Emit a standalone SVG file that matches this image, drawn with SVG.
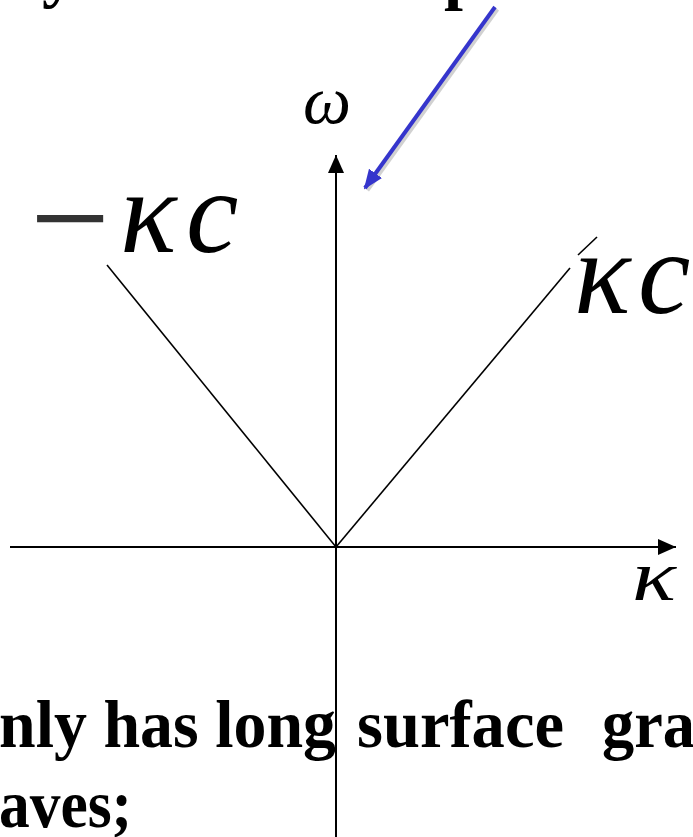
<svg xmlns="http://www.w3.org/2000/svg" width="693" height="837" viewBox="0 0 693 837">
  <style>
    .bold { font-family: "Liberation Serif", "Times New Roman", serif; font-weight: bold; font-size: 68px; fill: #000; }
    .math { font-family: "Liberation Serif", "Times New Roman", serif; font-style: italic; fill: #000; }
    .axis { stroke: #000; stroke-width: 2; fill: none; }
    .ray { stroke: #000; stroke-width: 1.6; fill: none; }
  </style>
  <defs>
    <marker id="axhead" viewBox="0 0 18 16" refX="18" refY="8" markerWidth="18" markerHeight="16" markerUnits="userSpaceOnUse" orient="auto">
      <path d="M0,0 L18,8 L0,16 Z" fill="#000"/>
    </marker>
    <marker id="bluehead" viewBox="0 0 20 16" refX="18" refY="8" markerWidth="20" markerHeight="16" markerUnits="userSpaceOnUse" orient="auto">
      <path d="M0,0 L20,8 L0,16 Z" fill="#3535cc"/>
    </marker>
  </defs>
  <rect width="693" height="837" fill="#fff"/>

  <g id="top-text">
    <text class="bold" x="42" y="-5">y</text>
    <text class="bold" x="444" y="-3">p</text>
  </g>

  <g id="axes">
    <line class="axis" x1="10" y1="547" x2="676" y2="547" marker-end="url(#axhead)"/>
    <line class="axis" x1="336" y1="837" x2="336" y2="155" marker-end="url(#axhead)"/>
  </g>

  <g id="rays">
    <line class="ray" x1="107" y1="265" x2="336" y2="547"/>
    <line class="ray" x1="336" y1="547" x2="570" y2="268"/>
    <line class="ray" x1="578" y1="255" x2="597" y2="237"/>
  </g>

  <g id="labels">
    <text class="math" font-size="118" y="252"><tspan x="30" y="266" font-style="normal" font-size="142" fill="#333">−</tspan><tspan x="120" y="252">κ</tspan><tspan x="186" y="252">c</tspan></text>
    <text class="math" font-size="118" y="313"><tspan x="574">κ</tspan><tspan x="638">c</tspan></text>
    <text class="math" font-size="68" x="303" y="123">ω</text>
    <text class="math" font-size="72" x="632" y="600" textLength="44" lengthAdjust="spacingAndGlyphs">κ</text>
  </g>

  <g id="connectors">
    <line x1="497" y1="9" x2="367" y2="190" stroke="#000" stroke-opacity="0.18" stroke-width="5"/>
    <line x1="495" y1="7" x2="365" y2="188" stroke="#3535cc" stroke-width="4" marker-end="url(#bluehead)"/>
  </g>

  <g id="caption">
    <text class="bold" x="-1" y="747" textLength="337" lengthAdjust="spacingAndGlyphs">nly has long</text>
    <text class="bold" x="357" y="747" textLength="207" lengthAdjust="spacingAndGlyphs">surface</text>
    <text class="bold" x="602" y="747" textLength="93" lengthAdjust="spacingAndGlyphs">gra</text>
    <text class="bold" x="-1" y="827" textLength="133" lengthAdjust="spacingAndGlyphs">aves;</text>
  </g>
</svg>
